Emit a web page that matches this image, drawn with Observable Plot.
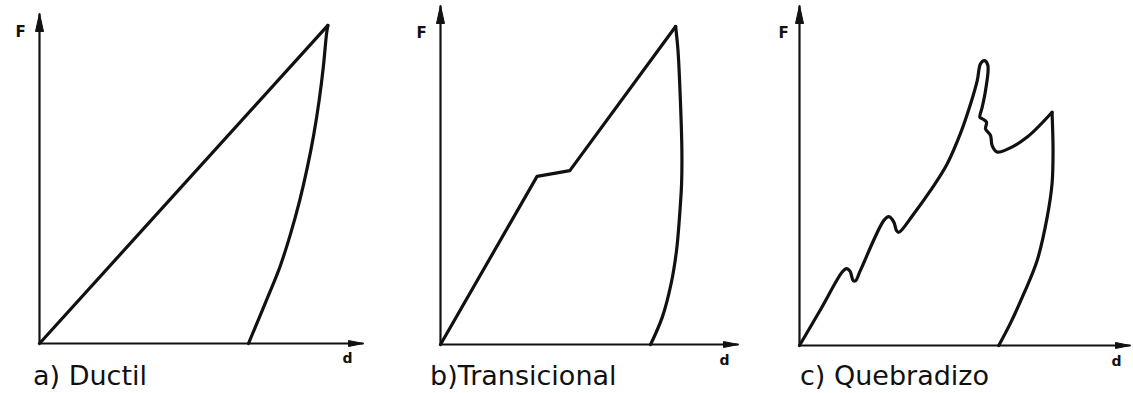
<!DOCTYPE html>
<html>
<head>
<meta charset="utf-8">
<script src="https://cdn.jsdelivr.net/npm/d3@7"></script>
<script src="https://cdn.jsdelivr.net/npm/@observablehq/plot@0.6"></script>
<style>
  html, body { margin: 0; padding: 0; background: #fff; }
  #figure { position: relative; width: 1133px; height: 393px; overflow: hidden; }
  .panel { position: absolute; top: 0; }
  .caption {
    position: absolute;
    font-family: "DejaVu Sans", sans-serif;
    font-size: 27px;
    line-height: 1;
    color: #111;
    white-space: nowrap;
  }
</style>
</head>
<body>
<div id="figure"></div>
<script>
// Force F vs. displacement d, three fracture behaviours (arbitrary units 0–10).

// a) Ductile: linear loading, curved unloading
const ductilLoadD = [0, 8.90];
const ductilLoadF = [0, 9.64];
const ductilUnloadD = [8.90, 8.86, 8.76, 8.63, 8.47, 8.27, 8.03, 7.75, 7.42, 7.00, 6.45];
const ductilUnloadF = [9.64, 9.39, 8.38, 7.36, 6.36, 5.35, 4.33, 3.33, 2.32, 1.30, 0];

// b) Transitional: loading with a plateau, unloading bulging outward
const transLoadD = [0, 3.24, 4.34, 7.89];
const transLoadF = [0, 4.96, 5.13, 9.38];
const transUnloadD = [7.89, 7.97, 8.05, 8.10, 8.09, 8.02, 7.92, 7.74, 7.44, 7.05];
const transUnloadF = [9.38, 8.67, 7.20, 5.72, 4.74, 3.76, 2.77, 1.80, 0.80, 0];

// c) Brittle: serrated loading with pop-ins, then unloading
const quebLoadD = [0, 0.65, 1.29, 1.42, 1.53, 1.62, 1.69, 1.84, 2.55, 2.70, 2.85, 2.93, 3.00, 3.45, 3.96, 4.46, 4.86, 5.17, 5.37, 5.47, 5.59, 5.69, 5.62, 5.52, 5.45, 5.52, 5.65, 5.62, 5.77, 5.82, 5.97, 6.32, 6.88, 7.63];
const quebLoadF = [0, 1.08, 2.16, 2.26, 2.18, 1.91, 1.90, 2.21, 3.68, 3.79, 3.63, 3.38, 3.33, 3.87, 4.56, 5.34, 6.23, 7.11, 7.79, 8.29, 8.38, 8.24, 7.50, 7.01, 6.71, 6.67, 6.57, 6.37, 6.18, 5.88, 5.69, 5.79, 6.13, 6.86];
const quebUnloadD = [7.63, 7.66, 7.63, 7.48, 7.18, 6.78, 6.37, 6.02];
const quebUnloadF = [6.86, 5.74, 4.76, 3.76, 2.50, 1.53, 0.65, 0];

const titles = ["a) Ductil", "b)Transicional", "c) Quebradizo"];
const axisLabelX = "d";
const axisLabelY = "F";

const toPoints = (ds, fs) => ds.map((d, i) => ({d, F: fs[i]}));

// Filled arrowhead symbol: tip at the anchor, pointing up before rotation
const arrowHead = (len, half) => ({
  draw(ctx) {
    ctx.moveTo(0, 0);
    ctx.lineTo(half, len);
    ctx.lineTo(-half, len);
    ctx.closePath();
  }
});

// Layout of each small multiple
const panels = [
  {title: titles[0], left: 0, width: 380, margin: {top: 13, right: 17, bottom: 50, left: 39},
   load: toPoints(ductilLoadD, ductilLoadF), loadCurve: "linear",
   unload: toPoints(ductilUnloadD, ductilUnloadF),
   fOff: [-24, 13], dOff: [-11, 19], caption: {x: 33, y: 362}},
  {title: titles[1], left: 380, width: 380, margin: {top: 5, right: 22, bottom: 49, left: 60},
   load: toPoints(transLoadD, transLoadF), loadCurve: "linear",
   unload: toPoints(transUnloadD, transUnloadF),
   fOff: [-24, 22], dOff: [-9, 20], caption: {x: 430, y: 362}},
  {title: titles[2], left: 760, width: 373, margin: {top: 5, right: 3, bottom: 48, left: 39},
   load: toPoints(quebLoadD, quebLoadF), loadCurve: "catmull-rom",
   unload: toPoints(quebUnloadD, quebUnloadF),
   fOff: [-21, 22], dOff: [-9, 20], caption: {x: 800, y: 362}}
];

const figure = document.getElementById("figure");
const height = 393;
const ink = "#111";

for (const p of panels) {
  const chart = Plot.plot({
    width: p.width,
    height,
    marginTop: p.margin.top,
    marginRight: p.margin.right,
    marginBottom: p.margin.bottom,
    marginLeft: p.margin.left,
    x: {domain: [0, 10], axis: null},
    y: {domain: [0, 10], axis: null},
    style: {background: "white", overflow: "visible"},
    marks: [
      // axes
      Plot.link([{x1: 0, y1: 0, x2: 0, y2: 10}, {x1: 0, y1: 0, x2: 10, y2: 0}], {
        x1: "x1", y1: "y1", x2: "x2", y2: "y2", stroke: ink, strokeWidth: 2.2
      }),
      // arrowheads at the axis ends
      Plot.dot([{x: 0, y: 10}], {
        x: "x", y: "y", r: 5, symbol: arrowHead(18, 4), fill: ink, stroke: ink, strokeWidth: 1
      }),
      Plot.dot([{x: 10, y: 0}], {
        x: "x", y: "y", r: 5, symbol: arrowHead(15, 3), rotate: 90, fill: ink, stroke: ink, strokeWidth: 1
      }),
      // loading branch
      Plot.line(p.load, {
        x: "d", y: "F", curve: p.loadCurve,
        stroke: ink, strokeWidth: 3.2, strokeLinejoin: "round", strokeLinecap: "round"
      }),
      // unloading branch
      Plot.line(p.unload, {
        x: "d", y: "F", curve: "catmull-rom",
        stroke: ink, strokeWidth: 3.2, strokeLinejoin: "round", strokeLinecap: "round"
      }),
      // axis names
      Plot.text([axisLabelY], {
        frameAnchor: "top-left", dx: p.fOff[0], dy: p.fOff[1],
        fontFamily: "DejaVu Sans", fontWeight: "bold", fontSize: 15, fill: ink
      }),
      Plot.text([axisLabelX], {
        frameAnchor: "bottom-right", dx: p.dOff[0], dy: p.dOff[1],
        fontFamily: "DejaVu Sans", fontWeight: "bold", fontSize: 14, fill: ink
      })
    ]
  });
  chart.classList.add("panel");
  chart.style.left = p.left + "px";
  figure.appendChild(chart);

  const cap = document.createElement("div");
  cap.className = "caption";
  cap.textContent = p.title;
  cap.style.left = p.caption.x + "px";
  cap.style.top = p.caption.y + "px";
  figure.appendChild(cap);
}
</script>
</body>
</html>
